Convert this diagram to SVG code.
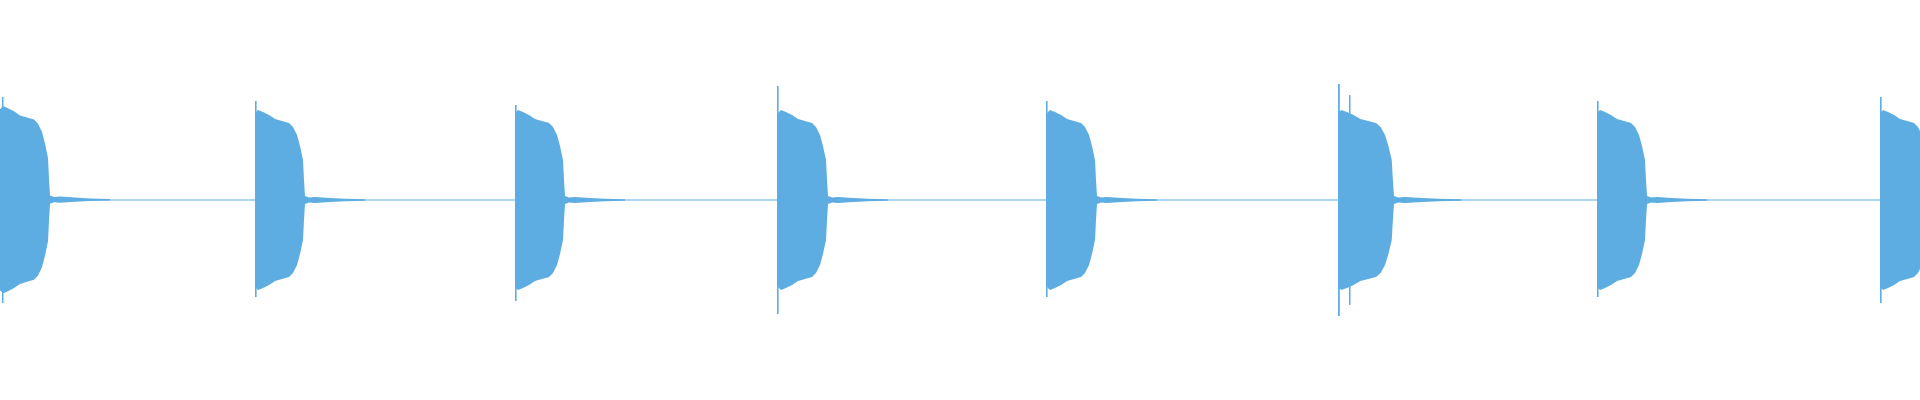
<svg xmlns="http://www.w3.org/2000/svg" width="1920" height="400" viewBox="0 0 1920 400">
<defs>
<style>.w{fill:#5dade2}.b{stroke:#5dade2;stroke-width:1.2}</style>
<path id="burst" class="w" d="M0,113 L3,110 L8,112 L14,115 L20,119 L27,121 L34,123 L38,127 L42,135 L45,146 L48,160 L49,180 L50,196 L54,197.5 L60,197 L75,198 L90,198.8 L110,199.3 L110,200.7 L90,201.2 L75,202 L60,203 L54,202.5 L50,204 L49,220 L48,240 L45,254 L42,265 L38,273 L34,277 L27,279 L20,281 L14,285 L8,288 L3,290 L0,287 Z"/>
<rect id="spike" class="w" x="0" y="101" width="1.6" height="196"/>
</defs>
<line class="b" x1="0" y1="200" x2="1920" y2="200"/>
<g id="b1"><use href="#burst" transform="translate(0,0) scale(1,1.04) translate(0,-8)"/><rect class="w" x="2" y="97" width="1.5" height="206"/></g>
<g id="b2"><use href="#burst" x="255"/><use href="#spike" x="255"/></g>
<g id="b3"><use href="#burst" x="515"/><use href="#spike" x="515" y="4"/></g>
<g id="b4"><use href="#burst" x="778"/><rect class="w" x="777" y="86" width="1.6" height="228"/></g>
<g id="b5"><use href="#burst" x="1047"/><use href="#spike" x="1046"/></g>
<g id="b6"><use href="#burst" transform="translate(1338,0) scale(1.12,1)"/><rect class="w" x="1338" y="84" width="1.8" height="232"/><rect class="w" x="1349" y="95" width="1.5" height="210"/></g>
<g id="b7"><use href="#burst" x="1597"/><use href="#spike" x="1597"/></g>
<g id="b8"><use href="#burst" x="1880"/><rect class="w" x="1880" y="97" width="1.6" height="206"/></g>
</svg>
